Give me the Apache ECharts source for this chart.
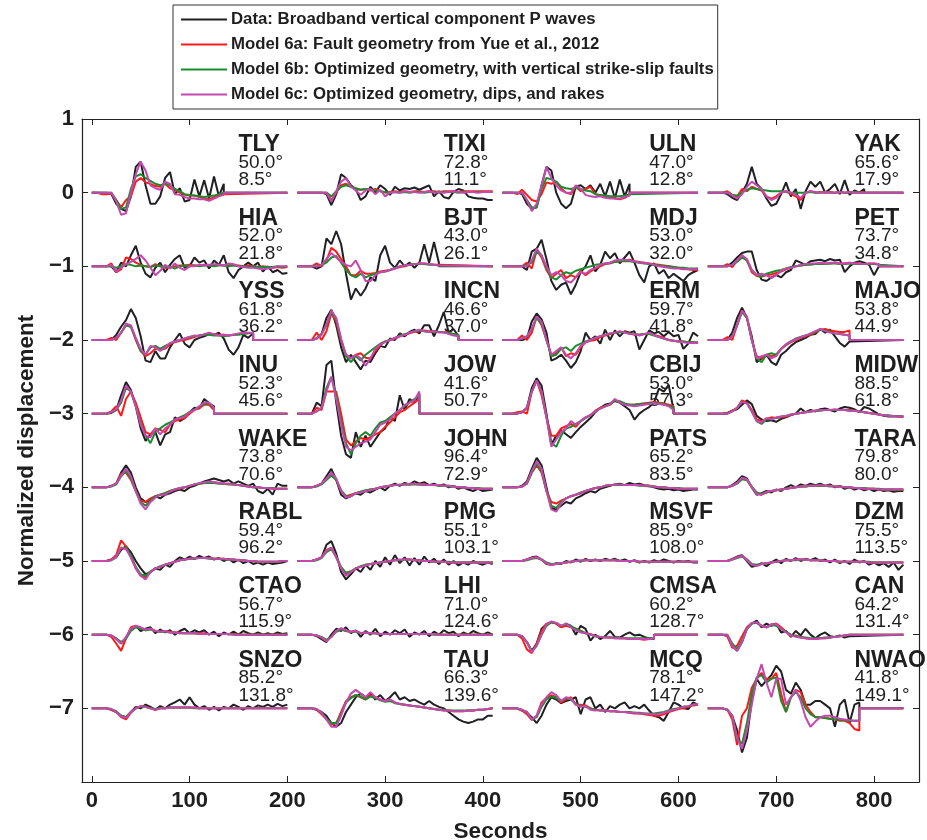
<!DOCTYPE html>
<html>
<head>
<meta charset="utf-8">
<script src="https://cdn.jsdelivr.net/npm/echarts@6/dist/echarts.min.js"></script>
<style>
  html, body { margin: 0; padding: 0; background: #fff; }
  #chart { width: 927px; height: 840px; }
</style>
</head>
<body>
<div id="chart"></div>
<script>
// Station order: four columns per row, rows stacked at offsets 0, -1, ... -7
const STATIONS = ['TLY','TIXI','ULN','YAK','HIA','BJT','MDJ','PET','YSS','INCN','ERM','MAJO','INU','JOW','CBIJ','MIDW',
  'WAKE','JOHN','PATS','TARA','RABL','PMG','MSVF','DZM','CTAO','LHI','CMSA','CAN','SNZO','TAU','MCQ','NWAO'];
const DISTANCE = ['50.0','72.8','47.0','65.6','52.0','43.0','53.0','73.7','61.8','46.6','59.7','53.8','52.3','41.6','53.0','88.5',
  '73.8','96.4','65.2','79.8','59.4','55.1','85.9','75.5','56.7','71.0','60.2','64.2','85.2','66.3','78.1','41.8'];
const AZIMUTH = ['8.5','11.1','12.8','17.9','21.8','26.1','32.0','34.8','36.2','37.0','41.8','44.9','45.6','50.7','57.3','61.8',
  '70.6','72.9','83.5','80.0','96.2','103.1','108.0','113.5','115.9','124.6','128.7','131.4','131.8','139.6','147.2','149.1'];
// Length (s) of each recorded window; the trace is zero beyond it
const WINDOW_END = [135,200,130,160, 200,145,200,175, 165,165,200,145, 125,125,175,200,
  200,200,200,200, 200,200,200,200, 200,200,155,145, 200,200,200,155];
const SAMPLE_STEP = 5;          // seconds between samples
const PANEL_START = [0, 210, 420, 630];
const PANEL_LENGTH = 200;
const X_TICKS = [0,100,200,300,400,500,600,700,800];
const Y_TICKS = [-7,-6,-5,-4,-3,-2,-1,0,1];

// Waveforms, in hundredths of normalized displacement, sampled every 5 s
const TLY_obs = [0,0,0,0,-2,-15,-22,-25,-5,35,42,10,-15,-15,-5,20,28,-2,6,-12,-10,18,-5,17,-8,22,-5,12];
const TLY_m6a = [0,0,-2,-2,-1,-10,-20,-10,-5,15,20,14,12,9,8,12,6,4,0,-3,-4,-4,-6,-8,-9,-6,-4,-2];
const TLY_m6b = [0,0,0,0,0,-10,-22,-20,5,22,25,20,16,12,10,12,10,5,2,-2,-3,-4,-5,-6,-5,-4,-2,0];
const TLY_m6c = [0,0,0,0,0,-12,-30,-28,0,25,42,30,10,6,4,15,12,-2,-3,-6,-8,-8,-9,-9,-11,-8,-5,-3];

const TIXI_obs = [0,0,0,0,0,0,-2,-17,-2,25,20,10,5,-10,-5,8,0,10,5,-3,8,3,6,5,7,4,7,10,-5,2,-6,-8,1,5,3,-5,-7,-8,-8,-10,-10];
const TIXI_m6a = [0,0,0,0,0,0,0,-10,0,10,12,8,5,4,5,3,5,2,0,1,2,1,2,1,2,2,1,2,2,1,2,2,2,1,2,2,2,2,2,2,2];
const TIXI_m6b = [0,0,0,0,0,0,0,-5,2,8,10,8,6,4,5,4,3,2,1,0,1,0,1,0,1,1,0,1,1,0,1,1,1,0,1,1,1,1,1,1,1];
const TIXI_m6c = [0,0,0,0,0,0,0,-12,2,15,20,8,3,-3,3,5,-2,4,-5,0,1,0,2,1,1,0,1,2,0,1,0,1,2,1,0,1,1,0,1,1,1];

const ULN_obs = [0,0,0,0,-2,-15,-22,-20,10,35,30,0,-15,-21,-15,8,10,5,10,0,12,-5,15,-8,18,-5,12];
const ULN_m6a = [0,0,0,-2,4,-3,-10,-12,-2,14,12,15,6,0,-2,8,2,5,8,-2,-4,-5,-6,-8,-9,-7,-3];
const ULN_m6b = [0,0,0,0,0,-10,-20,-20,5,20,18,15,8,6,5,7,5,3,2,-2,-3,-4,-5,-5,-5,-4,-2];
const ULN_m6c = [0,0,0,0,0,-10,-25,-15,10,35,20,10,3,0,0,10,5,-3,-5,-6,-5,-7,-8,-8,-8,-6,-4];

const YAK_obs = [0,0,0,0,-2,-7,-10,0,12,35,12,5,-8,-18,-15,-2,14,-5,5,-22,2,15,8,15,0,5,12,-2,17,-3,3,0,5];
const YAK_m6a = [0,0,0,0,2,-3,-5,5,2,8,5,3,-5,-8,-5,0,2,-2,-5,-10,0,2,0,1,0,1,0,1,0,1,0,1,0];
const YAK_m6b = [0,0,0,0,0,-3,-4,0,4,6,5,4,3,2,2,2,1,0,0,0,0,1,0,0,1,0,0,1,0,0,1,0,0];
const YAK_m6c = [0,0,0,0,0,-4,-8,-2,8,15,10,5,-5,-10,-7,0,2,0,-3,-7,0,2,1,0,1,0,0,1,0,1,0,0,0];

const HIA_obs = [0,0,0,0,0,-8,5,0,15,28,5,-10,-15,-2,5,-8,2,10,15,-2,0,12,5,8,-3,8,2,15,-8,-16,-5,0,5,0,5,-7,0,-8,-5,-10,-9];
const HIA_m6a = [0,0,0,0,4,-8,-4,12,10,5,2,0,-1,3,0,-2,-2,0,1,1,2,1,1,2,1,2,2,1,2,2,1,0,1,0,-1,0,-1,-2,-1,-2,-1];
const HIA_m6b = [0,0,0,0,0,-2,0,3,2,0,1,0,-1,1,0,-1,0,-3,0,1,0,1,0,1,1,0,1,1,0,1,0,0,-1,0,-1,-1,-1,-1,0,-1,0];
const HIA_m6c = [0,0,0,0,2,-7,-2,3,6,10,15,8,-2,-12,-6,2,-3,4,-2,-5,0,0,2,1,2,3,2,1,4,3,0,-1,-2,-2,-3,-4,-3,-2,0,0,0];

const BJT_obs = [0,0,0,0,-3,0,38,30,48,30,-10,-45,-30,-40,-30,-15,-20,15,28,5,-2,8,0,5,-2,5,30,5,33,5];
const BJT_m6a = [0,0,0,0,4,0,8,25,20,10,0,-12,-12,-6,-10,-10,-9,-7,-6,-5,-3,-1,0,2,3,4,4,3,2,2];
const BJT_m6b = [0,0,0,0,0,2,5,12,14,5,-5,-12,-15,-10,-15,-12,-10,-8,-7,-5,-2,0,1,2,3,3,3,2,2,1];
const BJT_m6c = [0,0,0,0,0,2,10,18,12,6,2,0,8,-5,-20,-20,-12,-8,-7,-5,-3,0,1,2,3,4,4,3,2,1];

const MDJ_obs = [0,0,0,0,0,-5,20,24,36,10,-20,-32,-25,-22,-38,-25,-8,0,15,-7,2,20,11,18,4,12,20,5,-12,-22,0,4,-10,-5,-16,-10,-15,-20,-12,-8,-5];
const MDJ_m6a = [0,0,0,0,0,5,-3,22,12,-5,-16,-10,-5,-16,-12,-15,-6,-12,-7,-3,0,3,4,6,7,8,9,7,6,5,4,3,2,1,0,-1,-2,-3,-4,-5,-5];
const MDJ_m6b = [0,0,0,0,0,2,5,20,15,-2,-15,-18,-12,-8,-10,-6,-4,-2,0,2,3,4,5,6,7,7,7,6,5,4,3,2,1,0,0,-1,-2,-2,-3,-3,-3];
const MDJ_m6c = [0,0,0,0,0,0,8,24,15,0,-12,-8,-12,-20,-22,-15,-8,-10,-5,-2,2,4,5,8,9,9,8,7,5,5,4,2,0,-1,-2,-3,-3,-4,-4,-4,-3];

const PET_obs = [0,0,0,0,0,5,12,18,20,20,-5,-18,-20,-15,-12,-15,-8,-5,8,5,2,7,8,9,7,10,8,9,-8,0,5,7,5,2,-12,0];
const PET_m6a = [0,0,0,0,3,-1,8,15,8,-8,-13,-14,-12,-11,-9,-7,-4,-2,0,1,2,3,3,4,4,4,5,4,4,5,4,4,3,4,4,3];
const PET_m6b = [0,0,0,0,0,2,6,12,8,-5,-12,-14,-10,-8,-6,-5,-3,-1,0,1,2,2,3,3,3,4,4,3,3,4,3,3,3,3,3,2];
const PET_m6c = [0,0,0,0,0,2,8,15,10,-5,-12,-10,-12,-16,-12,-6,-3,-2,0,2,3,4,4,5,4,5,5,4,4,5,4,4,3,4,4,3];

const YSS_obs = [0,0,0,0,0,7,18,27,42,30,5,-28,-30,-15,-25,-25,-10,0,9,-5,-10,0,3,5,8,7,10,2,-13,-20,-10,7,3,9];
const YSS_m6a = [0,0,0,0,3,0,10,20,18,0,-15,-22,-18,-12,-13,-12,-6,-3,-1,0,2,4,6,7,8,8,7,7,6,7,8,9,9,10];
const YSS_m6b = [0,0,0,0,0,3,10,20,18,2,-15,-20,-10,-8,-12,-8,-5,-2,0,2,4,5,6,7,7,6,6,5,6,7,7,8,9,10];
const YSS_m6c = [0,0,0,0,0,3,10,22,20,3,-12,-20,-8,-10,-15,-10,-4,-2,0,2,4,6,5,8,10,8,6,7,6,7,9,10,10,10];

const INCN_obs = [0,0,0,0,2,8,30,41,20,-10,-30,-20,-30,-40,-28,-30,-18,-8,-10,2,0,9,5,11,14,9,20,20,5,20,38,10,15,5];
const INCN_m6a = [0,0,0,0,10,0,12,36,25,-2,-20,-25,-20,-18,-24,-25,-15,-7,-2,0,2,5,7,9,11,12,13,12,12,11,11,10,8,6];
const INCN_m6b = [0,0,0,0,2,8,20,38,28,0,-22,-30,-22,-28,-20,-15,-10,-5,-2,0,3,6,8,10,12,13,12,11,12,11,10,10,8,7];
const INCN_m6c = [0,0,0,0,2,7,22,40,30,2,-20,-25,-20,-25,-35,-25,-12,-6,-3,0,3,5,7,10,12,14,12,11,12,10,11,8,6,5];

const ERM_obs = [0,0,0,0,0,2,25,36,28,10,-28,-25,-20,-28,-38,-30,-15,10,0,5,-5,14,0,13,5,12,10,12,-13,0,13,9,11,5,11,5,7,-12,-5,10,5];
const ERM_m6a = [0,0,0,0,6,0,10,32,20,0,-20,-18,-10,-22,-18,-20,-10,-3,-1,0,4,6,8,10,11,11,9,7,7,8,9,7,5,3,0,-1,-2,-2,-3,-3,-4];
const ERM_m6b = [0,0,0,0,2,5,15,30,22,0,-22,-20,-12,-10,-15,-8,-5,-2,0,3,5,7,9,10,11,10,9,8,7,8,8,6,4,2,0,-1,-2,-2,-3,-3,-3];
const ERM_m6c = [0,0,0,0,2,5,15,32,25,0,-20,-15,-10,-20,-25,-18,-8,-3,0,3,5,7,9,10,12,10,8,8,6,8,10,7,4,2,0,-1,-2,-3,-4,-4,-3];

const MAJO_obs = [0,0,0,0,0,10,30,44,30,5,-30,-25,-20,-30,-34,-20,-15,-8,-3,0,3,7,8,15,10,14,5,-4,-9,-2];
const MAJO_m6a = [0,0,0,0,4,0,20,40,30,0,-22,-25,-20,-22,-20,-12,-7,-3,0,3,5,7,10,14,15,13,12,11,11,13];
const MAJO_m6b = [0,0,0,0,0,5,20,38,30,0,-25,-30,-20,-18,-20,-12,-6,-2,2,4,6,8,11,14,13,11,9,8,7,6];
const MAJO_m6c = [0,0,0,0,0,5,20,40,32,0,-25,-22,-20,-25,-22,-12,-6,-2,1,4,6,9,12,15,12,10,9,8,7,6];

const INU_obs = [0,0,0,0,1,5,25,43,32,10,-20,-37,-28,-25,-43,-28,-25,-5,-10,-6,2,8,7,20,14,10];
const INU_m6a = [0,0,0,0,3,10,-3,20,30,15,-5,-25,-28,-20,-22,-25,-15,-10,-8,-6,0,5,8,12,12,5];
const INU_m6b = [0,0,0,0,2,5,15,35,30,10,-12,-30,-40,-25,-20,-15,-12,-8,-5,-2,2,6,10,13,14,7];
const INU_m6c = [0,0,0,0,2,6,18,38,30,10,-15,-30,-32,-20,-28,-20,-15,-8,-6,-4,2,5,10,15,15,8];

const JOW_obs = [0,0,0,0,15,10,66,72,15,-30,-55,-60,-25,-45,-30,-45,-35,-25,-20,-5,-10,25,5,20,15,27];
const JOW_m6a = [0,0,0,0,8,5,30,30,30,0,-35,-43,-38,-33,-35,-32,-28,-25,-18,-12,-5,2,5,10,15,20];
const JOW_m6b = [0,0,0,0,3,8,35,50,25,-10,-40,-55,-40,-30,-25,-30,-20,-12,-10,-5,0,5,10,15,20,25];
const JOW_m6c = [0,0,0,0,3,8,30,50,20,-15,-45,-50,-45,-40,-38,-35,-25,-15,-12,-8,0,5,12,15,18,30];

const CBIJ_obs = [0,0,0,0,2,8,35,48,38,0,-42,-30,-22,-28,-33,-25,-18,-12,-6,2,8,12,14,17,15,10,5,-8,0,5,9,15,34,30,39,5];
const CBIJ_m6a = [0,0,0,2,3,0,30,45,25,-5,-30,-30,-20,-17,-14,-18,-10,-5,-2,4,8,10,12,18,16,13,12,12,13,14,15,16,15,14,12,10];
const CBIJ_m6b = [0,0,0,0,2,8,30,45,30,-5,-40,-45,-30,-20,-18,-14,-10,-6,-2,3,7,10,13,18,17,14,12,12,13,13,14,15,14,13,11,8];
const CBIJ_m6c = [0,0,0,0,2,8,30,45,30,-5,-45,-35,-25,-20,-10,-15,-10,-5,-2,3,7,10,13,20,15,12,11,10,11,12,13,14,13,12,10,5];

const MIDW_obs = [0,0,0,0,1,4,6,12,18,13,-3,-8,-10,-9,-11,-7,-5,-2,0,7,2,5,3,6,7,5,3,7,9,8,6,2,9,7,3,-1,-3,-4,-4,-4,-4];
const MIDW_m6a = [0,0,0,0,0,4,8,18,15,5,-8,-10,-7,-5,-6,-5,-4,-2,0,1,2,3,4,5,5,5,5,5,5,5,4,3,2,1,0,-1,-2,-3,-3,-4,-5];
const MIDW_m6b = [0,0,0,0,0,3,8,16,14,3,-10,-14,-8,-7,-6,-4,-3,-1,0,1,2,3,4,4,5,5,5,5,5,4,4,3,2,1,0,-1,-2,-2,-3,-3,-4];
const MIDW_m6c = [0,0,0,0,0,3,8,16,14,3,-10,-12,-6,-8,-5,-4,-3,-1,0,1,2,3,4,5,5,5,6,5,5,4,4,3,2,1,0,-1,-2,-3,-3,-4,-4];

const WAKE_obs = [0,0,0,0,2,5,20,30,20,0,-15,-20,-18,-12,-15,-10,-8,-5,-3,-5,0,2,5,8,10,12,10,8,10,5,8,5,2,5,-5,-8,-2,-10,5,2,2];
const WAKE_m6a = [0,0,0,0,2,5,18,20,10,-5,-18,-20,-15,-12,-10,-8,-5,-3,-2,0,2,4,5,6,7,7,6,5,5,4,3,2,1,0,0,-1,-1,-2,-2,-2,-2];
const WAKE_m6b = [0,0,0,0,1,4,15,22,12,-5,-20,-25,-18,-12,-10,-8,-5,-3,-1,0,2,4,5,6,6,6,5,5,4,4,3,2,1,0,0,-1,-1,-1,-2,-2,-2];
const WAKE_m6c = [0,0,0,0,2,5,16,25,15,-5,-22,-30,-20,-14,-10,-10,-6,-3,-1,0,2,4,6,7,8,7,6,5,5,4,3,2,1,0,0,-1,-1,-2,-2,-2,-2];

const JOHN_obs = [0,0,0,0,2,5,15,25,10,-10,-15,-12,-8,-10,-5,-7,-3,0,-4,2,5,2,6,4,8,5,7,3,5,2,4,0,2,-2,0,-3,-5,-2,-5,-4,-3];
const JOHN_m6a = [0,0,0,0,2,5,12,18,10,-5,-12,-10,-8,-6,-5,-3,-2,0,1,2,3,3,4,4,5,4,4,3,3,3,2,2,1,0,0,-1,-1,-2,-2,-2,-2];
const JOHN_m6b = [0,0,0,0,1,4,10,16,10,-4,-12,-12,-8,-6,-4,-3,-2,0,1,2,3,3,4,4,4,4,3,3,3,2,2,1,1,0,0,-1,-1,-1,-2,-2,-2];
const JOHN_m6c = [0,0,0,0,2,5,12,20,12,-5,-14,-12,-8,-7,-5,-4,-2,0,1,2,3,4,4,5,5,4,4,3,3,3,2,2,1,0,0,-1,-1,-2,-2,-2,-2];

const PATS_obs = [0,0,0,0,2,8,25,40,30,0,-28,-30,-25,-20,-22,-15,-12,-8,-5,-7,-2,0,2,4,5,3,6,4,5,3,2,0,-2,-3,-2,-4,-3,-5,-4,-3,-3];
const PATS_m6a = [0,0,0,0,1,5,20,30,20,-5,-20,-22,-18,-15,-12,-10,-8,-5,-3,-1,0,2,3,3,3,3,3,3,3,2,2,1,0,0,-1,-1,-2,-2,-2,-2,-2];
const PATS_m6b = [0,0,0,0,1,5,20,32,22,-5,-25,-28,-20,-15,-12,-10,-7,-5,-3,-1,0,2,3,3,3,3,3,3,2,2,1,1,0,0,-1,-1,-1,-2,-2,-2,-2];
const PATS_m6c = [0,0,0,0,1,6,22,35,25,-5,-30,-33,-22,-15,-12,-10,-8,-5,-3,-1,0,2,3,4,4,3,3,3,3,2,2,1,0,0,-1,-1,-2,-2,-2,-2,-2];

const TARA_obs = [0,0,0,0,0,3,8,15,12,0,-10,-8,-5,-7,-3,-5,0,3,0,4,2,5,3,5,2,4,0,2,-2,0,-3,-1,-4,-2,-5,-3,-5,-4,-6,-5,-5];
const TARA_m6a = [0,0,0,0,0,2,6,12,10,0,-8,-10,-7,-5,-4,-3,-2,-1,0,1,1,2,2,2,2,2,1,1,0,0,-1,-1,-2,-2,-2,-3,-3,-3,-3,-3,-3];
const TARA_m6b = [0,0,0,0,0,2,5,11,10,1,-7,-9,-7,-5,-4,-3,-2,-1,0,1,1,2,2,2,2,1,1,1,0,0,-1,-1,-1,-2,-2,-2,-3,-3,-3,-3,-3];
const TARA_m6c = [0,0,0,0,0,2,6,13,11,0,-9,-10,-6,-5,-4,-3,-2,-1,0,1,2,2,2,3,2,2,1,1,0,0,-1,-1,-2,-2,-2,-3,-3,-3,-3,-3,-3];

const RABL_obs = [0,0,0,0,2,5,15,20,12,0,-10,-18,-15,-10,-12,-5,-8,0,5,2,6,3,7,4,6,2,4,0,3,-2,2,-3,0,-4,-2,-5,-2,-4,-3,-2,0];
const RABL_m6a = [0,0,0,0,2,8,28,20,5,-10,-20,-22,-15,-10,-8,-5,-3,-1,1,2,3,4,4,4,4,3,3,3,2,2,1,1,0,0,-1,-1,-1,-1,-1,0,0];
const RABL_m6b = [0,0,0,0,1,5,18,18,8,-8,-18,-20,-14,-10,-7,-5,-3,-1,1,2,3,3,4,4,3,3,3,2,2,2,1,1,0,0,-1,-1,-1,-1,-1,0,0];
const RABL_m6c = [0,0,0,0,1,6,18,16,5,-10,-20,-25,-15,-10,-8,-5,-3,-1,1,2,3,4,4,4,4,3,3,3,2,2,1,1,0,0,-1,-1,-1,-1,-1,0,0];

const PMG_obs = [0,0,0,0,2,5,22,27,10,-15,-25,-18,-10,-15,-5,-12,0,-8,5,-5,8,-3,5,-6,4,-5,6,-2,3,-4,2,-5,0,-6,-2,-5,0,-3,-5,-2,-4];
const PMG_m6a = [0,0,0,0,2,5,15,18,5,-10,-18,-15,-10,-8,-5,-4,-3,-2,-1,0,1,1,2,2,1,1,0,0,-1,-1,-1,-2,-2,-2,-2,-2,-2,-2,-2,-2,-2];
const PMG_m6b = [0,0,0,0,1,4,12,16,6,-8,-16,-14,-10,-7,-5,-4,-3,-2,-1,0,1,1,2,2,1,1,0,0,-1,-1,-1,-1,-2,-2,-2,-2,-2,-2,-2,-2,-2];
const PMG_m6c = [0,0,0,0,2,5,14,18,5,-10,-20,-15,-10,-8,-6,-4,-3,-2,-1,0,1,2,2,2,1,1,0,0,-1,-1,-1,-2,-2,-2,-2,-2,-2,-2,-2,-2,-2];

const MSVF_obs = [0,0,0,0,0,2,5,6,2,-4,-5,-3,-4,0,-2,2,-1,3,0,2,0,3,1,3,0,2,-1,1,-2,0,-2,1,-1,2,0,-2,0,-1,0,-2,-2];
const MSVF_m6a = [0,0,0,0,0,2,4,5,2,-3,-5,-4,-3,-2,-1,0,0,1,1,1,1,1,1,1,0,0,0,0,-1,-1,-1,-1,-1,-1,-1,-1,-1,-1,-1,-1,-1];
const MSVF_m6b = [0,0,0,0,0,1,3,4,2,-2,-4,-4,-3,-2,-1,0,0,1,1,1,1,1,1,1,0,0,0,0,-1,-1,-1,-1,-1,-1,-1,-1,-1,-1,-1,-1,-1];
const MSVF_m6c = [0,0,0,0,0,2,4,5,2,-3,-5,-4,-3,-2,-1,0,1,1,1,1,1,1,1,1,0,0,0,0,-1,-1,-1,-1,-1,-1,-1,-1,-1,-1,-1,-1,-1];

const DZM_obs = [0,0,0,0,0,3,6,8,0,-8,-6,-3,-7,-2,2,-3,3,0,4,0,3,1,4,0,2,-2,2,-3,0,-4,2,-2,0,-5,-2,-6,-3,-8,-2,-12,-5];
const DZM_m6a = [0,0,0,0,0,2,5,7,2,-5,-6,-4,-3,-2,-1,0,1,1,2,2,2,1,1,1,0,0,0,-1,-1,-1,-1,-1,-1,-2,-2,-2,-2,-2,-2,-2,-2];
const DZM_m6b = [0,0,0,0,0,2,4,6,2,-4,-5,-4,-3,-2,-1,0,1,1,1,2,2,1,1,1,0,0,0,-1,-1,-1,-1,-1,-1,-1,-2,-2,-2,-2,-2,-2,-2];
const DZM_m6c = [0,0,0,0,0,2,5,7,1,-5,-7,-4,-3,-2,-1,0,1,1,2,2,2,1,1,1,0,0,0,-1,-1,-1,-1,-1,-1,-2,-2,-2,-2,-2,-2,-2,-2];

const CTAO_obs = [0,0,0,0,-2,-5,-12,-5,8,12,5,8,10,2,7,3,6,0,5,8,2,6,3,6,0,4,-2,3,0,4,0,5,2,0,3,0,2,0,3,1,2];
const CTAO_m6a = [0,0,0,0,-3,-12,-22,-5,10,12,8,6,8,5,4,5,4,3,3,2,2,2,2,2,1,1,1,1,1,1,0,0,0,0,0,0,0,0,0,0,0];
const CTAO_m6b = [0,0,0,0,-1,-5,-10,-5,5,10,8,6,7,5,4,4,3,3,2,2,2,2,1,1,1,1,1,1,1,0,0,0,0,0,0,0,0,0,0,0,0];
const CTAO_m6c = [0,0,0,0,-1,-6,-12,-3,8,12,10,7,8,5,4,5,3,3,2,2,2,2,1,1,1,1,1,1,1,0,0,0,0,0,0,0,0,0,0,0,0];

const LHI_obs = [0,0,0,0,-2,-6,-10,0,8,5,10,2,6,-3,5,0,8,-2,4,0,6,2,7,-3,3,0,5,-2,4,0,6,2,4,-2,3,0,5,2,0,3,0];
const LHI_m6a = [0,0,0,0,-1,-4,-8,-3,5,8,5,4,5,2,3,2,2,1,1,1,1,1,1,1,1,1,1,1,1,0,0,0,0,0,0,0,0,0,0,0,0];
const LHI_m6b = [0,0,0,0,-1,-3,-7,-3,4,7,5,4,4,2,3,2,2,1,1,1,1,1,1,1,1,1,1,1,0,0,0,0,0,0,0,0,0,0,0,0,0];
const LHI_m6c = [0,0,0,0,-1,-4,-9,-3,5,9,6,4,5,2,3,2,2,1,1,1,1,1,1,1,1,1,1,1,1,0,0,0,0,0,0,0,0,0,0,0,0];

const CMSA_obs = [0,0,0,0,-2,-10,-22,-12,8,14,17,15,10,15,12,0,12,8,-8,0,-6,-2,5,-3,-4,0,3,-1,0,-3,-5,-6];
const CMSA_m6a = [0,0,0,0,-5,-20,-25,-12,5,15,17,15,10,12,10,8,5,2,1,-2,-3,-4,-4,-5,-5,-5,-6,-6,-6,-7,-6,-5];
const CMSA_m6b = [0,0,0,0,-2,-10,-22,-15,0,12,17,16,12,14,12,8,5,2,0,-2,-3,-3,-4,-4,-5,-5,-5,-5,-5,-5,-5,-5];
const CMSA_m6c = [0,0,0,0,-2,-10,-24,-15,0,14,18,16,12,15,10,6,3,2,0,-2,-3,-4,-4,-5,-5,-5,-6,-6,-6,-6,-6,-5];

const CAN_obs = [0,0,0,0,-2,-15,-22,-10,8,15,19,10,15,12,15,3,5,-3,5,-1,8,0,-5,0,3,-2,-3,-1,-4,-2];
const CAN_m6a = [0,0,0,0,-2,-18,-15,-2,10,16,16,12,10,14,15,10,4,-2,-1,-4,-5,-6,-6,-5,-5,-4,-3,-2,-1,0];
const CAN_m6b = [0,0,0,0,0,-12,-20,-8,8,15,16,12,10,13,12,8,4,0,-2,-3,-4,-5,-5,-5,-4,-4,-3,-2,-1,0];
const CAN_m6c = [0,0,0,0,0,-15,-22,-10,8,16,17,12,10,14,14,8,3,-1,-3,-4,-5,-6,-6,-5,-5,-4,-3,-2,-1,0];

const SNZO_obs = [0,0,0,0,-2,-5,-10,-12,-5,2,0,5,2,-2,3,0,5,8,12,5,15,5,0,3,-2,2,-3,2,0,5,2,-2,3,0,4,2,5,2,6,3,5];
const SNZO_m6a = [0,0,0,0,-2,-5,-12,-15,-6,0,3,2,0,-2,0,0,1,1,1,1,1,1,0,0,0,0,0,0,0,0,0,0,0,0,0,0,0,0,0,0,0];
const SNZO_m6b = [0,0,0,0,-1,-4,-10,-12,-5,0,2,2,0,-1,0,0,1,1,1,1,1,0,0,0,0,0,0,0,0,0,0,0,0,0,0,0,0,0,0,0,0];
const SNZO_m6c = [0,0,0,0,-1,-5,-11,-13,-5,0,3,2,0,-2,0,0,1,1,1,1,1,1,0,0,0,0,0,0,0,0,0,0,0,0,0,0,0,0,0,0,0];

const TAU_obs = [0,0,0,0,-2,-5,-10,-20,-25,-20,-5,5,15,20,15,20,12,18,10,15,22,12,15,10,12,8,5,10,5,2,0,-5,-10,-15,-18,-20,-18,-15,-15,-10,-10];
const TAU_m6a = [0,0,0,0,-2,-8,-15,-22,-20,-5,10,15,18,15,12,18,15,12,10,12,8,6,5,4,3,2,1,0,-1,-2,-3,-3,-4,-4,-4,-3,-3,-2,-2,-1,0];
const TAU_m6b = [0,0,0,0,-1,-6,-14,-20,-20,-8,8,14,18,16,12,16,14,11,9,10,7,6,5,4,3,2,1,0,-1,-2,-2,-3,-3,-3,-3,-3,-3,-2,-2,-1,0];
const TAU_m6c = [0,0,0,0,-1,-6,-15,-25,-25,-10,8,20,25,20,15,22,15,12,10,12,8,6,5,4,3,2,1,0,-1,-2,-3,-3,-4,-4,-4,-3,-3,-2,-2,-1,0];

const MCQ_obs = [0,0,0,0,-3,-6,-12,-20,-10,5,15,12,7,10,12,15,-8,12,15,0,5,-5,3,0,5,8,0,3,0,5,-3,-10,-12,-17,-5,8,5,0,-1,8,5];
const MCQ_m6a = [0,0,0,0,-3,-8,-16,-10,8,14,18,15,8,12,15,5,5,4,0,-2,-3,-3,-4,-4,-5,-5,-6,-7,-7,-8,-9,-10,-10,-8,-5,-3,-1,0,2,4,5];
const MCQ_m6b = [0,0,0,0,-2,-5,-15,-12,2,12,16,14,10,14,12,6,3,2,0,-2,-3,-3,-4,-4,-5,-5,-5,-6,-6,-7,-7,-7,-6,-5,-3,-1,0,2,3,5,6];
const MCQ_m6c = [0,0,0,0,-2,-5,-15,-10,5,15,22,18,10,15,13,5,2,3,-2,-3,-2,-3,-4,-4,-5,-5,-6,-6,-7,-7,-8,-8,-8,-6,-4,-2,0,2,3,5,6];

const NWAO_obs = [0,0,0,0,-2,-10,-30,-60,-40,10,40,30,38,45,58,50,25,20,35,25,5,5,10,10,5,0,-25,5,12,-20,5,8];
const NWAO_m6a = [0,0,0,0,-2,-15,-50,-10,0,28,40,48,40,40,48,20,-5,15,25,22,5,-5,-12,-12,-13,-14,-15,-17,-17,-20,-28,-30];
const NWAO_m6b = [0,0,0,0,-2,-10,-42,-48,-20,20,42,45,35,40,42,10,-5,15,22,15,0,-8,-12,-12,-13,-14,-15,-16,-16,-17,-17,-17];
const NWAO_m6c = [0,0,0,0,-2,-10,-40,-55,-30,5,40,60,35,15,40,40,5,15,25,10,-12,-25,-18,-12,-10,-10,-12,-14,-15,-16,-17,-17];

// Lookup: station -> [data, model 6a, model 6b, model 6c]
const TRACES = {
  TLY:[TLY_obs,TLY_m6a,TLY_m6b,TLY_m6c], TIXI:[TIXI_obs,TIXI_m6a,TIXI_m6b,TIXI_m6c],
  ULN:[ULN_obs,ULN_m6a,ULN_m6b,ULN_m6c], YAK:[YAK_obs,YAK_m6a,YAK_m6b,YAK_m6c],
  HIA:[HIA_obs,HIA_m6a,HIA_m6b,HIA_m6c], BJT:[BJT_obs,BJT_m6a,BJT_m6b,BJT_m6c],
  MDJ:[MDJ_obs,MDJ_m6a,MDJ_m6b,MDJ_m6c], PET:[PET_obs,PET_m6a,PET_m6b,PET_m6c],
  YSS:[YSS_obs,YSS_m6a,YSS_m6b,YSS_m6c], INCN:[INCN_obs,INCN_m6a,INCN_m6b,INCN_m6c],
  ERM:[ERM_obs,ERM_m6a,ERM_m6b,ERM_m6c], MAJO:[MAJO_obs,MAJO_m6a,MAJO_m6b,MAJO_m6c],
  INU:[INU_obs,INU_m6a,INU_m6b,INU_m6c], JOW:[JOW_obs,JOW_m6a,JOW_m6b,JOW_m6c],
  CBIJ:[CBIJ_obs,CBIJ_m6a,CBIJ_m6b,CBIJ_m6c], MIDW:[MIDW_obs,MIDW_m6a,MIDW_m6b,MIDW_m6c],
  WAKE:[WAKE_obs,WAKE_m6a,WAKE_m6b,WAKE_m6c], JOHN:[JOHN_obs,JOHN_m6a,JOHN_m6b,JOHN_m6c],
  PATS:[PATS_obs,PATS_m6a,PATS_m6b,PATS_m6c], TARA:[TARA_obs,TARA_m6a,TARA_m6b,TARA_m6c],
  RABL:[RABL_obs,RABL_m6a,RABL_m6b,RABL_m6c], PMG:[PMG_obs,PMG_m6a,PMG_m6b,PMG_m6c],
  MSVF:[MSVF_obs,MSVF_m6a,MSVF_m6b,MSVF_m6c], DZM:[DZM_obs,DZM_m6a,DZM_m6b,DZM_m6c],
  CTAO:[CTAO_obs,CTAO_m6a,CTAO_m6b,CTAO_m6c], LHI:[LHI_obs,LHI_m6a,LHI_m6b,LHI_m6c],
  CMSA:[CMSA_obs,CMSA_m6a,CMSA_m6b,CMSA_m6c], CAN:[CAN_obs,CAN_m6a,CAN_m6b,CAN_m6c],
  SNZO:[SNZO_obs,SNZO_m6a,SNZO_m6b,SNZO_m6c], TAU:[TAU_obs,TAU_m6a,TAU_m6b,TAU_m6c],
  MCQ:[MCQ_obs,MCQ_m6a,MCQ_m6b,MCQ_m6c], NWAO:[NWAO_obs,NWAO_m6a,NWAO_m6b,NWAO_m6c]
};

const SERIES_NAMES = [
  'Data: Broadband vertical component P waves',
  'Model 6a: Fault geometry from Yue et al., 2012',
  'Model 6b: Optimized geometry, with vertical strike-slip faults',
  'Model 6c: Optimized geometry, dips, and rakes'
];
const SERIES_COLORS = ['#1f1f24', '#ff1a1a', '#1a8c2e', '#c548b0'];

const FONT = '"Liberation Sans", Arial, Helvetica, sans-serif';
const INK = '#1e1e1e';

// Concatenate every station's trace for one series, offset to its panel
function tracePoints(k) {
  const pts = [];
  STATIONS.forEach((name, i) => {
    const row = Math.floor(i / 4), col = i % 4;
    const base = -row, t0 = PANEL_START[col];
    TRACES[name][k].forEach((v, j) => pts.push([t0 + j * SAMPLE_STEP, base + v / 100]));
    const end = WINDOW_END[i];
    if (end < PANEL_LENGTH) {
      pts.push([t0 + end, base], [t0 + PANEL_LENGTH, base]);
    }
    pts.push('-');
  });
  return pts;
}

// Station annotation: name, epicentral distance, azimuth (anchored in data space)
const LABEL_ROWS = [
  { dy: 0.81, font: 'bold 23px ' + FONT, text: i => STATIONS[i] },
  { dy: 0.54, font: '19px ' + FONT, text: i => DISTANCE[i] + '\u00b0' },
  { dy: 0.305, font: '19px ' + FONT, text: i => AZIMUTH[i] + '\u00b0' }
];

const labelSeries = {
  type: 'custom',
  silent: true,
  z: 1,
  animation: false,
  data: STATIONS.map((name, i) => [PANEL_START[i % 4] + 150, -Math.floor(i / 4)]),
  renderItem: (params, api) => {
    const i = params.dataIndex;
    const x = api.value(0), y = api.value(1);
    return {
      type: 'group',
      children: LABEL_ROWS.map(r => {
        const p = api.coord([x, y + r.dy]);
        return {
          type: 'text',
          x: p[0], y: p[1],
          style: { text: r.text(i), font: r.font, fill: INK, align: 'left', verticalAlign: 'top' }
        };
      })
    };
  }
};

const lineSeries = SERIES_NAMES.map((nm, k) => ({
  name: nm,
  type: 'line',
  z: 2 + k,
  data: tracePoints(k),
  showSymbol: false,
  symbol: 'none',
  connectNulls: false,
  color: SERIES_COLORS[k],
  lineStyle: { color: SERIES_COLORS[k], width: 2 },
  animation: false,
  silent: true
}));

const minusFmt = v => (v < 0 ? '\u2212' + Math.abs(v) : String(v));
const frameLine = { show: true, onZero: false, lineStyle: { color: '#222', width: 1.2 } };
const frameTick = ticks => ({ show: true, inside: true, length: 6, customValues: ticks, lineStyle: { color: '#222' } });
const tickFont = { fontFamily: FONT, fontWeight: 'bold', fontSize: 22, color: INK };
const nameFont = { fontFamily: FONT, fontWeight: 'bold', fontSize: 22.5, color: INK };

const chart = echarts.init(document.getElementById('chart'), null, { renderer: 'canvas' });
chart.setOption({
  backgroundColor: '#fff',
  animation: false,
  legend: {
    data: SERIES_NAMES,
    orient: 'vertical',
    left: 173,
    top: 5,
    icon: 'rect',
    itemWidth: 46,
    itemHeight: 2,
    itemGap: 8,
    padding: [6, 4, 6, 8],
    borderColor: '#333',
    borderWidth: 1,
    backgroundColor: '#fff',
    textStyle: { fontFamily: FONT, fontWeight: 'bold', fontSize: 16.8, color: INK, padding: [0, 0, 0, -1] }
  },
  grid: { left: 82, right: 8, top: 119, bottom: 58, containLabel: false, outerBoundsMode: 'none' },
  xAxis: [{
    type: 'value', min: -10, max: 846, position: 'bottom',
    name: 'Seconds', nameLocation: 'middle', nameGap: 38,
    nameTextStyle: nameFont,
    axisLine: frameLine,
    axisTick: frameTick(X_TICKS),
    axisLabel: Object.assign({ customValues: X_TICKS, margin: 8 }, tickFont),
    splitLine: { show: false }
  }, {
    type: 'value', min: -10, max: 846, position: 'top',
    axisLine: frameLine,
    axisTick: frameTick(X_TICKS),
    axisLabel: { show: false },
    splitLine: { show: false }
  }],
  yAxis: [{
    type: 'value', min: -8, max: 1, position: 'left',
    name: 'Normalized displacement', nameLocation: 'middle', nameGap: 44, nameRotate: 90,
    nameTextStyle: nameFont,
    axisLine: frameLine,
    axisTick: frameTick(Y_TICKS),
    axisLabel: Object.assign({ customValues: Y_TICKS, formatter: minusFmt, margin: 8 }, tickFont),
    splitLine: { show: false }
  }, {
    type: 'value', min: -8, max: 1, position: 'right',
    axisLine: frameLine,
    axisTick: frameTick(Y_TICKS),
    axisLabel: { show: false },
    splitLine: { show: false }
  }],
  series: [labelSeries].concat(lineSeries)
});
</script>
</body>
</html>
